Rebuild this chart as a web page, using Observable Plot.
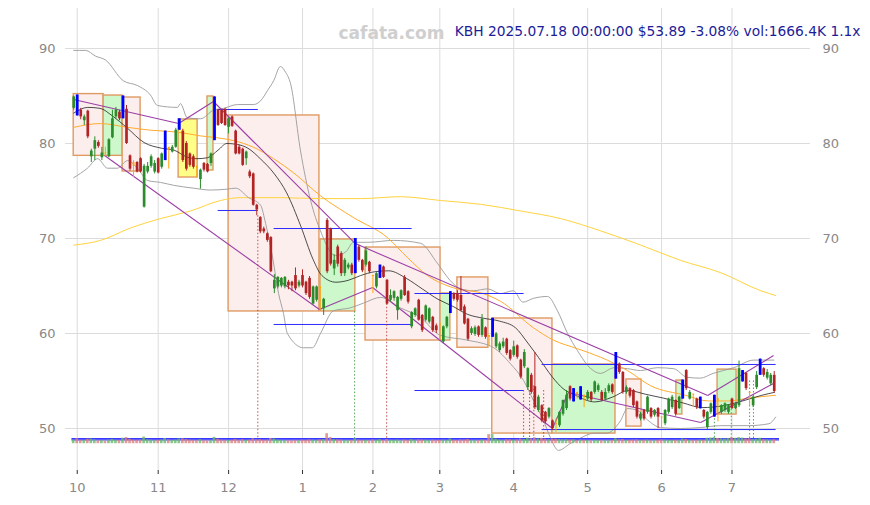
<!DOCTYPE html>
<html><head><meta charset="utf-8">
<script src="https://cdn.jsdelivr.net/npm/d3@7"></script>
<script src="https://cdn.jsdelivr.net/npm/@observablehq/plot@0.6"></script>
<style>html,body{margin:0;padding:0;background:#fff;} #chart svg{display:block;}</style>
</head><body><div id="chart"></div>
<script>
// ---- header values ----
const ticker = "KBH";
const lastStamp = "2025.07.18 00:00:00";
const lastPrice = "$53.89";
const lastChange = "-3.08%";
const lastVol = "vol:1666.4K";
const volRatio = "1.1x";
const watermark = "cafata.com";

// ---- axes ----
const monthTicks = [1, 24, 44, 65, 85, 104, 125, 146, 167, 187]; // trading-day index of month starts
const monthLabels = ["10", "11", "12", "1", "2", "3", "4", "5", "6", "7"];
const priceTicks = [50, 60, 70, 80, 90];

// ---- daily OHLC (trading-day index 0 = 2024-09-30) ----
const opens = [83.7,84.9,83.5,82.4,83.4,78.6,79.4,80.1,78.5,79.0,
78.6,80.6,82.8,83.3,82.6,83.6,78.7,78.0,78.0,78.4,
73.3,77.0,77.6,77.0,78.4,77.5,78.2,79.6,79.1,79.6,
81.4,81.3,80.0,78.9,78.6,77.6,76.2,77.9,77.8,77.9,
80.3,83.5,83.5,83.6,81.7,82.8,81.3,79.6,79.4,78.4,
77.0,76.8,73.5,72.2,71.0,70.5,70.1,64.7,64.9,65.0,
64.9,65.4,65.4,66.1,65.0,66.1,65.4,65.8,63.1,63.5,
64.9,62.6,71.9,71.0,66.8,69.1,68.4,66.3,66.9,67.2,
66.3,69.1,67.7,67.2,67.5,66.1,64.9,65.8,67.0,65.6,
63.5,63.7,62.4,63.6,65.9,64.4,60.7,61.9,63.5,61.9,
61.4,61.2,61.7,60.8,61.0,59.1,60.7,62.1,64.2,64.2,
64.0,62.8,61.5,60.0,59.9,60.7,59.8,60.6,59.8,59.6,
58.6,58.2,58.6,59.4,58.2,57.7,58.7,57.2,56.5,54.3,
55.6,54.4,51.9,52.4,51.7,51.2,50.8,50.5,50.3,51.5,
52.1,54.4,52.8,53.8,53.0,53.5,53.1,53.8,53.8,54.0,
53.8,53.1,53.9,54.6,55.2,56.8,55.9,53.8,54.2,54.0,
52.8,51.0,51.9,51.7,52.1,51.4,52.1,51.2,50.5,51.7,
52.2,52.95,52.1,53.1,56.1,53.1,53.6,53.1,52.07,51.9,
50.1,51.7,51.2,53.1,51.7,51.9,51.7,53.1,52.1,52.4,
54.9,55.8,53.8,52.4,54.3,55.6,56.3,55.3,54.7,55.6];
const highs = [85.0,85.1,83.7,83.0,83.5,79.4,80.7,80.3,79.6,79.6,
80.5,83.5,83.8,83.5,85.0,84.0,78.8,78.2,78.1,78.5,
77.8,78.0,78.8,78.2,78.5,79.0,81.3,79.6,79.8,81.6,
82.6,81.5,80.2,79.0,78.8,77.6,77.3,78.0,77.9,79.0,
84.9,83.6,83.6,83.7,82.7,82.9,81.4,79.8,79.5,79.2,
77.2,76.9,73.6,72.3,71.2,70.6,70.2,66.2,66.0,65.9,
66.0,65.6,65.5,66.9,65.6,66.7,65.5,66.0,65.0,65.0,
64.9,63.7,72.1,71.1,68.3,69.3,68.6,67.9,67.4,67.4,
70.0,69.3,67.8,69.1,67.6,66.1,66.4,67.2,67.1,65.7,
64.6,64.5,63.9,64.6,66.1,64.5,62.3,62.7,63.6,62.0,
63.0,62.7,61.8,61.0,61.0,60.8,61.8,64.4,64.3,64.5,
66.0,63.0,61.6,60.7,60.8,60.8,62.0,60.7,59.8,61.6,
60.1,59.1,59.5,59.5,58.3,59.2,58.8,57.3,58.3,56.4,
55.8,58.0,53.5,52.5,51.8,52.2,50.9,51.0,51.8,53.0,
54.0,54.5,54.2,53.8,54.4,53.5,54.0,53.9,55.0,54.7,
54.0,54.2,54.7,54.7,58.0,56.9,56.0,54.5,54.3,54.1,
52.9,51.7,52.0,53.4,52.2,52.0,52.2,51.2,52.0,53.2,
53.5,53.0,53.4,55.1,56.2,54.0,53.6,53.2,53.3,52.0,
51.8,52.7,53.5,53.1,52.5,52.7,52.5,53.2,52.7,57.1,
56.1,55.9,53.8,53.4,56.0,57.3,56.4,56.2,55.8,56.0];
const lows = [83.5,82.9,82.5,81.9,80.5,78.0,78.2,79.5,78.2,78.6,
78.5,80.5,82.6,82.4,82.6,79.9,77.1,76.4,76.9,76.9,
73.2,76.8,77.4,76.8,76.8,77.3,78.2,77.3,79.0,79.5,
81.4,78.0,77.1,77.5,77.3,76.4,75.2,77.0,76.9,77.6,
80.3,81.8,82.0,81.8,81.0,81.7,78.8,78.8,77.6,77.7,
76.3,73.4,72.4,70.5,70.5,69.6,66.4,64.2,64.7,64.8,
64.7,64.6,64.4,64.5,64.8,64.8,64.0,63.6,63.0,63.3,
62.4,61.9,66.3,67.1,66.1,67.0,66.0,66.0,66.7,66.1,
66.3,67.5,66.4,67.0,66.3,64.2,64.7,65.8,65.8,63.0,
63.3,63.4,61.4,63.4,63.9,63.1,60.5,61.7,61.3,60.1,
61.2,61.0,60.1,60.0,59.3,58.9,60.5,62.1,63.4,63.3,
62.3,60.9,59.2,59.8,59.7,59.6,59.6,59.4,58.6,59.6,
58.4,58.0,58.4,57.7,57.1,57.5,57.3,55.2,56.3,54.0,
53.6,52.0,51.7,50.6,50.5,51.0,49.8,49.6,50.1,51.3,
51.9,52.9,52.8,53.1,53.0,52.2,52.9,52.8,53.6,53.8,
52.8,52.9,53.7,53.6,55.2,55.7,53.6,53.6,53.2,52.2,
51.0,50.8,50.8,51.5,51.0,51.2,50.0,49.96,50.3,51.5,
52.0,51.3,52.0,53.1,54.0,53.0,52.2,52.0,52.07,51.0,
49.9,51.5,51.2,50.7,51.5,51.7,51.5,52.0,52.0,52.2,
54.9,54.0,52.4,52.2,54.1,55.6,55.4,55.1,54.5,53.7];
const closes = [84.9,83.1,82.8,82.8,80.7,79.2,80.3,79.7,79.0,78.9,
80.4,82.6,83.5,82.6,85.0,80.0,77.3,77.6,77.0,77.0,
77.6,77.6,78.6,77.9,76.9,78.9,81.3,79.4,79.6,81.4,
82.6,78.2,77.3,77.7,77.5,77.4,77.2,77.2,77.0,78.9,
84.9,81.9,82.1,81.9,82.6,81.8,78.9,78.9,77.7,79.1,
76.5,73.5,73.0,70.7,70.7,69.8,66.5,65.6,65.9,65.8,
65.9,65.0,65.0,64.7,65.4,65.0,64.2,63.8,64.9,64.9,
64.7,63.6,66.5,67.3,67.7,67.3,66.3,67.7,67.2,66.3,
69.9,67.7,66.6,68.7,66.5,66.0,66.3,67.2,65.9,63.1,
64.0,64.4,63.8,64.5,64.0,63.3,62.2,62.6,61.4,60.3,
62.9,62.6,60.3,60.3,60.9,60.7,61.7,64.4,63.6,63.5,
62.4,61.0,59.4,60.5,60.6,59.8,61.5,59.6,59.6,61.6,
59.96,58.9,59.1,57.9,57.3,58.6,57.5,55.4,58.0,56.3,
53.8,52.2,53.3,50.8,50.7,52.1,50.0,50.4,51.7,52.95,
53.5,53.1,54.2,53.6,54.4,53.3,53.8,53.0,54.9,54.5,
52.95,53.8,54.5,53.8,58.0,55.9,53.8,54.3,53.4,52.4,
51.2,51.5,51.0,53.3,51.2,51.9,51.2,51.1,51.9,53.1,
53.3,51.5,53.3,55.05,54.2,53.8,53.5,52.2,53.3,51.2,
51.7,52.6,53.5,53.0,52.4,52.6,52.4,52.1,52.6,56.3,
56.1,54.2,53.7,53.3,55.6,57.3,55.6,55.9,55.6,53.89];
// volume, thousands of shares
const volumes = [1500,2100,1400,1300,1900,2000,1600,1200,1300,1100,1500,1800,1400,1300,2300,2600,1900,1500,1400,1500,
2800,1600,1500,1300,1400,1500,2200,1600,1300,1500,2000,2100,1800,1500,1400,1300,1700,1200,1100,1300,
2700,1900,1500,1400,1300,1400,1800,1400,1700,1300,1500,2100,1600,1700,1400,1500,2200,2000,1500,1400,
1300,1200,1100,1400,1200,1500,1400,1600,1500,1400,1600,1700,4200,2600,1700,1600,1500,1400,1200,1300,
2100,1500,1300,1400,1200,1600,1400,1700,1300,1800,1400,1300,1500,1200,1500,1300,1700,1400,1600,1500,
1400,1300,1500,1200,1400,1500,1300,2000,1400,1300,1600,1500,1800,1300,1200,1300,1500,1400,3800,3900,
1900,1500,1400,1700,1600,1500,1600,2000,1800,2300,2100,2500,2000,2200,1900,1700,2000,1900,1800,1600,
1700,1500,1600,1300,1500,1400,1300,1200,1400,1300,1200,1300,1200,1300,2100,1600,1800,1300,1400,1500,
1600,1300,1400,1500,1300,1200,1400,1600,1500,1400,1300,1400,1300,2000,1800,1300,1400,1300,1500,1400,
2300,2400,2600,2200,2100,2000,2200,2500,2300,2600,2400,2000,2100,1800,1900,2300,1700,1600,1500,1666];
const blueDays = [1,14,26,30,40,80,87,107,119,142,144,154,173,178,182,190,195];
const orangeDays = [9,17,27,35,70,85,104,118,137,143,145,167,176,183,192];

// ---- moving averages / bands (index, price) ----
const ma20X = [0,4,7.5,11,15,20,25,28.5,32,35,38,41,43.5,46.5,49.5,53,57,60.5,64.5,68,70.5,74.5,78,81.5,85.5,89.5,94.5,99,103.5,107.5,112,116.5,121,125.5,129,132,136,139,142.5,148,153,157.5,162.5,167.5,173,178.5,184.5,190,195.5,199];
const ma20Y = [83.2,83.8,83.7,82.9,81.7,80.1,79.5,79.3,78.6,78.4,78.5,79.3,80.0,79.9,79.5,78.4,76.8,74.8,71.3,67.8,66.1,65.4,65.6,66.1,66.5,66.6,65.8,64.7,63.6,62.9,62.0,61.6,61.3,60.6,59.0,57.5,55.4,54.2,53.5,52.8,53.3,54.0,53.6,53.2,52.7,52.2,52.4,52.9,53.5,53.8];
const ma50X = [0,7.6,15.3,21.8,29.5,36,40.8,45.5,51.1,56.8,62.5,70.1,79.5,89.1,94.8,100.5,107.9,116.4,121.2,130.6,136.3,143.1,149.7,157.3,163.9,173.8,180.3,186,191.7,199.4];
const ma50Y = [81.7,82.1,81.7,81.4,81.2,80.8,80.6,80.3,79.6,78.4,76.9,74.5,72.2,70.1,68.0,66.1,64.8,64.2,63.4,60.6,59.3,58.4,57.5,56.1,54.5,53.5,52.9,52.9,53.2,53.5];
const ma200X = [0,7.6,16.1,24.7,33.2,41.7,47.4,58.8,70.1,81.5,92.8,104.2,115.6,126.9,138.3,149.7,161.1,172.4,183.8,195.2,199.4];
const ma200Y = [69.3,69.8,71.1,72.1,72.9,74.0,74.3,74.3,74.2,74.2,74.4,74.0,73.6,72.9,72.1,70.8,69.3,67.7,66.4,64.5,64.0];
const bbUpX = [0,3.4,6.2,9,14.1,18.1,21.8,23.8,29.5,30.3,32.3,36,39.7,42.6,46.5,51.1,53.1,55.1,56.8,58.7,60.2,61.6,64.4,67.3,70.1,74.4,77.3,79.5,83.5,90.9,98.5,103.3,106.9,109.9,113.6,117.6,121.2,124.9,127.6,130.6,134.6,137.4,140.3,143.1,146.9,149.7,153.4,157.3,161,165.8,170.4,174.2,178,181.6,187.5,193.2,198.9];
const bbUpY = [89.8,89.8,89.2,88.8,86.6,86.1,85.1,84.0,83.8,84.2,82.7,82.6,83.5,83.7,84.1,84.1,84.5,85.6,86.6,88.1,87.5,86.3,79.3,74.0,70.8,68.2,68.6,69.6,69.6,69.8,69.5,67.4,65.6,64.7,64.5,64.7,64.2,64.5,63.3,63.7,63.9,62.4,60.0,58.2,56.3,55.8,56.4,56.3,56.1,56.4,56.3,55.4,55.3,55.8,56.4,57.2,57.2];
const bbLoX = [0,3.9,6.8,9.6,12.4,15.3,18.1,21,24.7,28.4,34,38.9,43.7,46,49.7,53.1,54.5,56.5,58.2,59.6,60.7,65.3,67.8,70.1,73.8,78.6,82.3,87.2,92.8,98.5,104.2,111.9,119.3,124.1,127.8,130.6,133.5,135.4,137.7,141,144,147.7,151.3,155.3,157.3,160.2,163,166.7,172.4,178.1,183.8,191.5,197.5,199.4];
const bbLoY = [76.4,77.4,78.4,77.4,77.4,78.2,77.4,76.1,75.9,75.6,75.3,75.1,75.2,75.3,74.3,73.5,71.6,68.0,64.2,62.1,60.0,58.5,58.5,60.0,62.4,62.7,63.2,63.8,62.7,61.7,59.8,59.3,58.5,56.8,55.05,52.95,50.8,49.05,47.7,48.4,49.0,49.5,49.5,50.8,52.1,51.9,50.9,50.1,50.0,50.1,50.3,50.3,50.5,51.2];

// ---- zones (index range x price range) ----
const zoneX1 = [0, 8.5, 13.9, 29.8, 38.0, 44.0, 70.1, 82.9, 104.2, 109.0, 118.9, 136.0, 157.0, 171.2, 182.9];
const zoneX2 = [8.5, 13.9, 19.0, 35.2, 39.7, 69.8, 80.0, 104.2, 107.0, 117.8, 136.0, 153.9, 161.3, 172.9, 188.3];
const zoneLo = [78.7, 78.7, 77.05, 76.42, 77.16, 62.32, 62.32, 59.26, 59.26, 58.5, 49.47, 49.47, 50.2, 51.47, 51.47];
const zoneHi = [85.2, 85.05, 84.84, 82.53, 84.95, 82.95, 69.9, 69.05, 64.21, 65.9, 61.58, 56.74, 55.16, 55.05, 56.2];
const zoneKind = ["down","up","down","flat","up","down","up","down","up","down","down","up","down","up","up"];

// ---- trend lines ----
const trendX1 = [0, 29.8, 39.7, 8.75, 69.8, 80.0, 84.9, 136.0, 140.5, 178.1, 180.1];
const trendY1 = [84.63, 82.11, 84.42, 78.74, 62.53, 69.47, 64.84, 50.0, 53.79, 50.63, 53.47];
const trendX2 = [29.8, 39.7, 80.0, 69.8, 84.9, 180.1, 136.0, 140.5, 178.1, 198.8, 198.8];
const trendY2 = [82.11, 84.42, 69.47, 62.53, 64.84, 53.47, 50.0, 53.79, 50.63, 54.74, 57.68];

// ---- support / resistance levels ----
const levelX1 = [40.9, 40.9, 56.8, 56.8, 96.8, 96.8, 132.9, 132.9];
const levelX2 = [52.3, 52.3, 96.0, 96.0, 127.8, 127.8, 199.4, 199.4];
const levelY = [83.58, 72.95, 71.05, 60.95, 64.21, 54.0, 56.74, 49.89];

// ---- signal markers (dotted) ----
const signalX = [52.3, 79.8, 88.9, 127.8, 129.5, 130.7, 133.5, 182.0, 186.8, 192.0, 193.1];
const signalTop = [72.4, 62.3, 63.5, 54.0, 54.0, 54.5, 54.0, 52.5, 52.4, 55.0, 55.0];
const signalKind = ["down","up","down","down","down","down","down","up","up","up","up"];

// ================= build =================
const candles = opens.map((o, i) => ({i, o, h: highs[i], l: lows[i], c: closes[i], v: volumes[i]}));
const kindOf = d => blueDays.includes(d.i) ? "blue" : orangeDays.includes(d.i) ? "orange" : (d.c >= d.o ? "up" : "down");
const candleColor = {up: "#2a8c2a", down: "#b22424", blue: "#0000ff", orange: "#ffa500"};
const zoneFill = {down: "#fdeeee", up: "#ccf8cc", flat: "#ffff88"};
const zones = zoneX1.map((x1, k) => ({x1, x2: zoneX2[k], lo: zoneLo[k], hi: zoneHi[k], kind: zoneKind[k]}));
const trends = trendX1.map((x1, k) => ({x1, y1: trendY1[k], x2: trendX2[k], y2: trendY2[k]}));
const levels = levelX1.map((x1, k) => ({x1, x2: levelX2[k], y: levelY[k]}));
const signals = signalX.map((x, k) => ({x, top: signalTop[k], kind: signalKind[k]}));
const pts = (X, Y) => X.map((x, k) => ({x, y: Y[k]}));

const volBase = 48.4, volUnit = 0.00025;    // volume strip under the candles
const volAvgAll = d3.mean(volumes);
const volAvgRecent = d3.mean(volumes.slice(-20));
const volLines = [volAvgAll, volAvgRecent].map(v => ({y: volBase + v * volUnit}));
const signalBottom = volBase + volAvgAll * volUnit;

const titleText = `${ticker} ${lastStamp} ${lastPrice} ${lastChange} ${lastVol} ${volRatio}`;
const tickLabel = new Map(monthTicks.map((t, k) => [t, monthLabels[k]]));

const chart = Plot.plot({
  width: 870, height: 505,
  marginLeft: 65, marginRight: 60, marginTop: 8, marginBottom: 35,
  x: {type: "linear", domain: [-2.33, 209.3]},
  y: {domain: [45.58, 94.21]},
  style: {fontFamily: "DejaVu Sans, sans-serif", background: "#fff", overflow: "visible"},
  marks: [
    Plot.gridY(priceTicks, {stroke: "#dcdcdc", strokeOpacity: 1}),
    Plot.gridX(monthTicks, {stroke: "#dcdcdc", strokeOpacity: 1}),
    Plot.axisY(priceTicks, {anchor: "left", tickSize: 0, tickPadding: 10, fill: "#888", fontSize: 13, label: null}),
    Plot.axisY(priceTicks, {anchor: "right", tickSize: 0, tickPadding: 12, fill: "#888", fontSize: 13, label: null}),
    Plot.axisX(monthTicks, {tickSize: 4, tickPadding: 8, stroke: "#333", fill: "#888", fontSize: 13, label: null, tickFormat: d => tickLabel.get(d)}),
    // zones
    Plot.rect(zones, {x1: "x1", x2: "x2", y1: "lo", y2: "hi", fill: d => zoneFill[d.kind], stroke: "#df9a62", strokeWidth: 1.4}),
    // averages & bands
    Plot.line(pts(ma200X, ma200Y), {x: "x", y: "y", stroke: "#ffd33d", strokeWidth: 1, curve: "monotone-x"}),
    Plot.line(pts(bbUpX, bbUpY), {x: "x", y: "y", stroke: "#9a9a9a", strokeWidth: 0.9, curve: "monotone-x"}),
    Plot.line(pts(bbLoX, bbLoY), {x: "x", y: "y", stroke: "#9a9a9a", strokeWidth: 0.9, curve: "monotone-x"}),
    Plot.line(pts(ma50X, ma50Y), {x: "x", y: "y", stroke: "#ffab2e", strokeWidth: 1, curve: "monotone-x"}),
    Plot.line(pts(ma20X, ma20Y), {x: "x", y: "y", stroke: "#222", strokeWidth: 0.8, curve: "monotone-x"}),
    // levels & trends
    Plot.link(levels, {x1: "x1", x2: "x2", y1: "y", y2: "y", stroke: "#2b2bff", strokeWidth: 1}),
    Plot.link(trends, {x1: "x1", y1: "y1", x2: "x2", y2: "y2", stroke: "#9b3fa6", strokeWidth: 1.1}),
    Plot.ruleX(signals, {x: "x", y1: "top", y2: signalBottom, stroke: d => candleColor[d.kind], strokeWidth: 0.8, strokeDasharray: "1.5,2"}),
    // volume strip: average lines, then bars
    Plot.ruleY(volLines, {y: "y", x1: -0.5, x2: 200.5, stroke: "#3838ff", strokeWidth: 1.2}),
    Plot.rect(candles, {x1: d => d.i - 0.38, x2: d => d.i + 0.38, y1: volBase, y2: d => volBase + d.v * volUnit,
      fill: d => d.c >= d.o ? "#6cb86c" : "#d98080", fillOpacity: 0.8}),
    // candles
    Plot.ruleX(candles, {x: "i", y1: "l", y2: "h", stroke: d => candleColor[kindOf(d)], strokeWidth: 1}),
    Plot.ruleX(candles.filter(d => kindOf(d) !== "blue"), {x: "i",
      y1: d => Math.min(d.o, d.c), y2: d => Math.max(Math.max(d.o, d.c), Math.min(d.o, d.c) + 0.12),
      stroke: d => candleColor[kindOf(d)], strokeWidth: d => kindOf(d) === "orange" ? 1.8 : 2.7}),
    Plot.ruleX(candles.filter(d => kindOf(d) === "blue"), {x: "i", y1: "l", y2: "h", stroke: "#0000ff", strokeWidth: 2.8}),
    // header texts
    Plot.text([watermark], {text: d => d, frameAnchor: "top-left", textAnchor: "start", dx: 273, dy: 18, fill: "#cfcfcf", fontWeight: "bold", fontSize: 17}),
    Plot.text([titleText], {text: d => d, frameAnchor: "top-right", dx: 50, dy: 18, textAnchor: "end", fill: "#1c1c9a", fontSize: 13.8})
  ]
});
document.getElementById("chart").append(chart);
</script>
</body></html>
